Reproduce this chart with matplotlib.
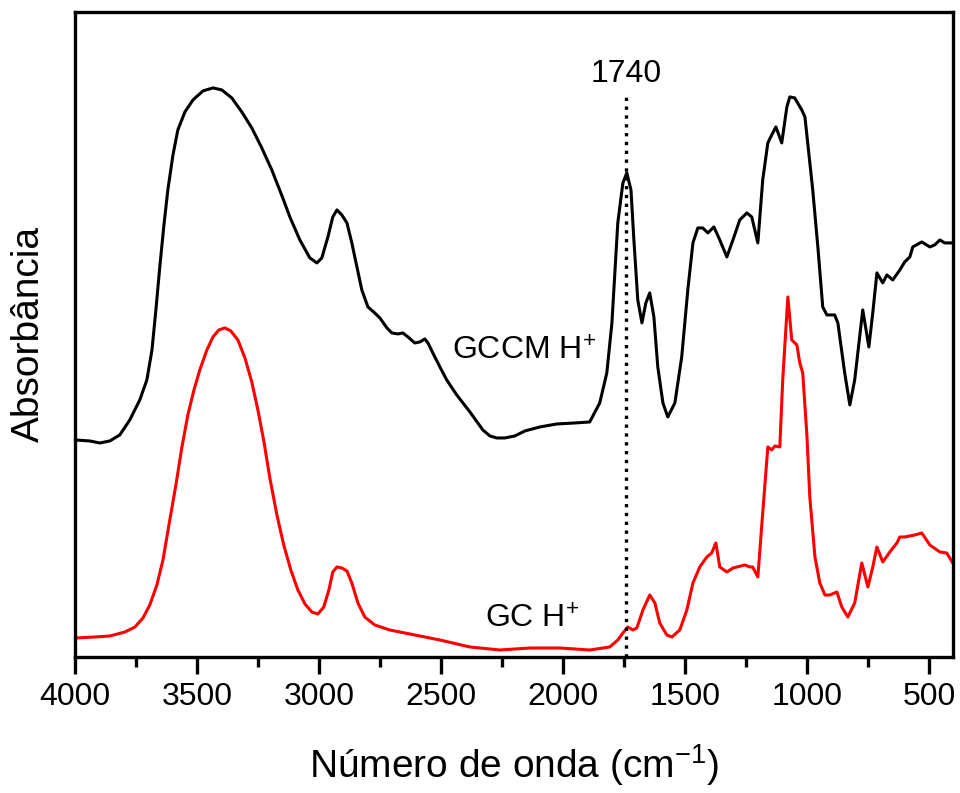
import numpy as np
import matplotlib
matplotlib.use("Agg")
from matplotlib import pyplot as plt
from matplotlib.ticker import MultipleLocator

plt.rcParams['font.family'] = ['Liberation Sans', 'DejaVu Sans']
plt.rcParams['mathtext.fontset'] = 'custom'
plt.rcParams['mathtext.rm'] = 'Liberation Sans'
plt.rcParams['mathtext.default'] = 'regular'

# GCCM H+ (curva preta)
gccm_x = [4000, 3939, 3898, 3857, 3816, 3775, 3734, 3705, 3684, 3668, 3652, 3635,
          3619, 3598, 3578, 3549, 3516, 3475, 3434, 3398, 3357, 3316, 3275, 3234,
          3193, 3148, 3119, 3078, 3037, 3008, 2988, 2963, 2943, 2926, 2906, 2885,
          2865, 2844, 2824, 2799, 2771, 2750, 2721, 2701, 2676, 2656, 2635, 2607,
          2586, 2566, 2553, 2533, 2504, 2476, 2435, 2381, 2328, 2299, 2271, 2238,
          2197, 2156, 2094, 2025, 1951, 1890, 1849, 1820, 1799, 1787, 1775, 1754,
          1738, 1721, 1709, 1693, 1676, 1660, 1644, 1627, 1611, 1590, 1570, 1541,
          1513, 1488, 1467, 1447, 1427, 1406, 1381, 1357, 1328, 1303, 1275, 1246,
          1226, 1201, 1181, 1160, 1144, 1127, 1103, 1082, 1070, 1050, 1021, 1008,
          988, 976, 955, 935, 918, 886, 873, 845, 824, 804, 771, 746, 730, 713,
          689, 672, 648, 619, 599, 578, 566, 529, 496, 476, 455, 435, 402]
gccm_y = [2.17, 2.16, 2.14, 2.16, 2.22, 2.37, 2.57, 2.77, 3.07, 3.47, 3.90, 4.32,
          4.67, 5.02, 5.27, 5.45, 5.57, 5.66, 5.69, 5.67, 5.59, 5.45, 5.29, 5.09,
          4.87, 4.59, 4.40, 4.17, 3.99, 3.94, 3.99, 4.20, 4.40, 4.47, 4.42, 4.34,
          4.14, 3.90, 3.67, 3.50, 3.44, 3.39, 3.29, 3.24, 3.23, 3.24, 3.20, 3.14,
          3.15, 3.18, 3.14, 3.04, 2.90, 2.77, 2.62, 2.45, 2.27, 2.21, 2.19, 2.19,
          2.21, 2.26, 2.30, 2.33, 2.34, 2.35, 2.54, 2.84, 3.34, 3.84, 4.34, 4.74,
          4.84, 4.67, 4.17, 3.57, 3.34, 3.54, 3.64, 3.40, 2.90, 2.54, 2.40, 2.54,
          3.00, 3.67, 4.14, 4.29, 4.29, 4.24, 4.30, 4.17, 4.00, 4.17, 4.37, 4.44,
          4.40, 4.14, 4.77, 5.14, 5.22, 5.30, 5.14, 5.50, 5.60, 5.59, 5.47, 5.40,
          4.94, 4.67, 4.10, 3.50, 3.42, 3.42, 3.34, 2.84, 2.52, 2.77, 3.47, 3.10,
          3.44, 3.84, 3.74, 3.82, 3.77, 3.87, 3.95, 4.00, 4.10, 4.15, 4.10, 4.12,
          4.17, 4.14, 4.14]

# GC H+ (curva vermelha)
gc_x = [4000, 3918, 3857, 3795, 3754, 3721, 3693, 3664, 3639, 3611, 3586, 3562,
        3537, 3512, 3488, 3459, 3434, 3410, 3385, 3361, 3332, 3303, 3275, 3250,
        3225, 3201, 3172, 3144, 3115, 3086, 3057, 3029, 3004, 2980, 2959, 2943,
        2926, 2906, 2885, 2865, 2840, 2812, 2771, 2709, 2627, 2504, 2381, 2258,
        2135, 2012, 1890, 1808, 1775, 1754, 1734, 1713, 1697, 1672, 1644, 1623,
        1603, 1574, 1553, 1521, 1492, 1467, 1439, 1410, 1390, 1373, 1357, 1328,
        1303, 1254, 1234, 1222, 1201, 1181, 1160, 1144, 1131, 1111, 1099, 1078,
        1062, 1041, 1029, 1017, 1000, 988, 967, 947, 926, 906, 877, 857, 832,
        804, 775, 750, 730, 713, 689, 660, 631, 619, 599, 558, 529, 496, 455,
        427, 402]
gc_y = [0.19, 0.20, 0.21, 0.25, 0.30, 0.39, 0.52, 0.72, 0.97, 1.37, 1.72, 2.09,
        2.42, 2.67, 2.87, 3.07, 3.20, 3.27, 3.29, 3.26, 3.17, 2.99, 2.75, 2.47,
        2.15, 1.79, 1.42, 1.12, 0.87, 0.67, 0.53, 0.45, 0.43, 0.50, 0.67, 0.85,
        0.90, 0.89, 0.86, 0.74, 0.54, 0.40, 0.32, 0.27, 0.23, 0.17, 0.10, 0.07,
        0.09, 0.09, 0.07, 0.10, 0.17, 0.24, 0.30, 0.27, 0.29, 0.47, 0.62, 0.54,
        0.34, 0.22, 0.20, 0.27, 0.47, 0.74, 0.90, 1.00, 1.04, 1.14, 0.90, 0.85,
        0.89, 0.92, 0.90, 0.90, 0.80, 1.44, 2.10, 2.07, 2.11, 2.10, 2.77, 3.60,
        3.17, 3.12, 2.94, 2.84, 2.22, 1.60, 1.00, 0.74, 0.62, 0.62, 0.65, 0.50,
        0.40, 0.54, 0.94, 0.70, 0.90, 1.10, 0.95, 1.05, 1.14, 1.20, 1.20, 1.22,
        1.24, 1.12, 1.05, 1.04, 0.94]

fig = plt.figure(figsize=(9.6, 7.93), dpi=100)
ax = fig.add_axes([0.078, 0.1715, 0.915, 0.8135])

ax.plot(gccm_x, gccm_y, color='black', lw=2.2, solid_joinstyle='round')
ax.plot(gc_x, gc_y, color='red', lw=2.2, solid_joinstyle='round')

# linha pontilhada em 1740
ax.plot([1740, 1740], [0, 5.62], color='black', lw=2.4, ls=':')
ax.text(1740, 5.75, '1740', ha='center', va='baseline', fontsize=23)

ax.text(2160, 2.97, 'GCCM H$^{+}$', ha='center', va='baseline', fontsize=23)
ax.text(2127, 0.29, 'GC H$^{+}$', ha='center', va='baseline', fontsize=23)

ax.set_xlim(4000, 400)
ax.set_ylim(0, 6.45)
ax.xaxis.set_major_locator(MultipleLocator(500))
ax.xaxis.set_minor_locator(MultipleLocator(250))
ax.set_yticks([])
ax.tick_params(axis='x', which='major', direction='out', length=12, width=2.4,
               labelsize=23, pad=6)
ax.tick_params(axis='x', which='minor', direction='out', length=7, width=2.4)
for s in ax.spines.values():
    s.set_linewidth(2.4)

ax.set_xlabel('Número de onda (cm$^{-1}$)', fontsize=28, labelpad=22)
ax.set_ylabel('Absorbância', fontsize=28, labelpad=20)

fig.savefig('out.png', dpi=100)
